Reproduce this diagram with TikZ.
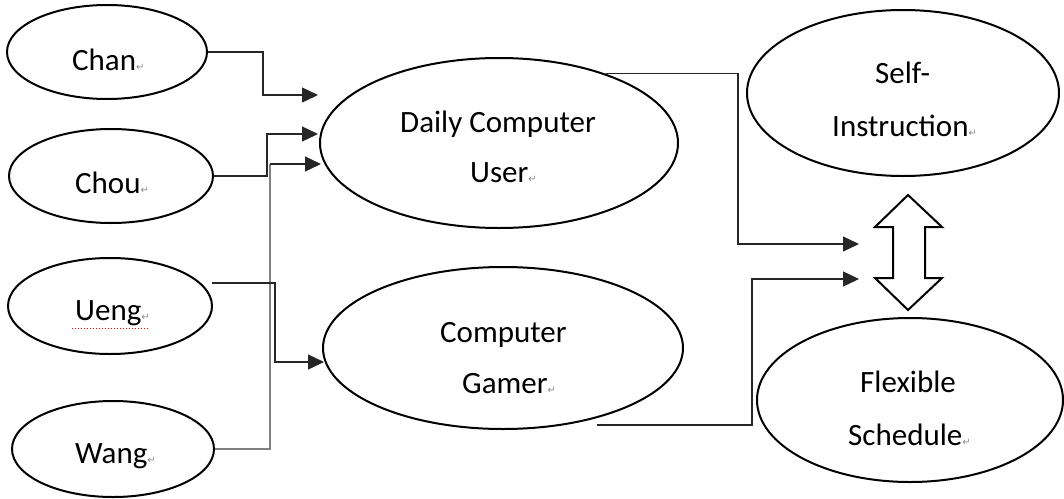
\documentclass[tikz,border=0pt]{standalone}
\usepackage{fontspec}
\setmainfont{Carlito}
\newfontfamily\dejavu{DejaVu Sans}
\usetikzlibrary{shapes.geometric,arrows.meta}
\newcommand\pmark{{\dejavu\fontsize{10}{10}\selectfont\textcolor{black!45}{↵}}}
\begin{document}
\begin{tikzpicture}[x=1pt,y=-1pt,
  oval/.style={ellipse,draw,line width=2pt,inner sep=0pt},
  lbl/.style={anchor=base west,inner sep=0pt,font=\fontsize{31}{31}\selectfont},
  conn/.style={line width=1.3pt,draw=black!85,-{Triangle[length=16pt,width=15pt]}},
  wire/.style={line width=1.3pt,draw=black!85}
]
\useasboundingbox (0,0) rectangle (1064,498);

% ellipses
\node[oval,minimum width=200pt,minimum height=94pt] (chan) at (107,52) {};
\node[oval,minimum width=204pt,minimum height=94pt] (chou) at (111,176) {};
\node[oval,minimum width=204pt,minimum height=96pt] (ueng) at (110,306) {};
\node[oval,minimum width=202pt,minimum height=96pt] (wang) at (113,449) {};
\node[oval,minimum width=358pt,minimum height=170pt] (daily) at (499,143) {};
\node[oval,minimum width=360pt,minimum height=162pt] (gamer) at (503,348) {};
\node[oval,minimum width=312pt,minimum height=166pt] (self) at (903,93) {};
\node[oval,minimum width=306pt,minimum height=164pt] (flex) at (910,400) {};

% labels
\node[lbl] (tchan) at (72,70) {Chan\pmark};
\node[lbl] (tchou) at (75,193) {Chou\pmark};
\node[lbl] (tueng) at (75,320) {Ueng\pmark};
\node[lbl] (twang) at (75,463) {Wang\pmark};
\node[lbl] (td1) at (400,132) {Daily Computer};
\node[lbl] (td2) at (470,182) {User\pmark};
\node[lbl] (tg1) at (440,342) {Computer};
\node[lbl] (tg2) at (462,393) {Gamer\pmark};
\node[lbl] (ts1) at (875,83) {Self-};
\node[lbl] (ts2) at (832,136) {Instruction\pmark};
\node[lbl] (tf1) at (860,392) {Flexible};
\node[lbl] (tf2) at (848,445) {Schedule\pmark};

% spell-check underline
\draw[red,dotted,line width=1pt] (72,328) -- (148,328);

% arrow end points and free starts
\coordinate (inA) at (318,95);
\coordinate (inB) at (318,134);
\coordinate (inC) at (321,164);
\coordinate (inD) at (324,362);
\coordinate (inE) at (859,244);
\coordinate (inF) at (859,279);
\coordinate (uout) at (212,283);
\coordinate (gout) at (597,425);

% connectors
\draw[conn] (chan.east) -| (263,95) -- (inA);
\draw[conn] (chou.east) -| (267,134) -- (inB);
\draw[wire,draw=black!50,line width=1.7pt] (wang.east) -| (270,164);
\draw[conn] (270,164) -- (inC);
\draw[conn] (uout) -| (275,362) -- (inD);
\draw[conn] (daily.33) -| (738,244) -- (inE);
\draw[conn] (gout) -| (752,279) -- (inF);

% double arrow
\draw[line width=2pt,fill=white,line join=miter] (908,195) -- (942,227) -- (925,227) -- (925,278) -- (942,278) -- (908,310) -- (875,278) -- (893,278) -- (893,227) -- (875,227) -- cycle;
\end{tikzpicture}
\end{document}
